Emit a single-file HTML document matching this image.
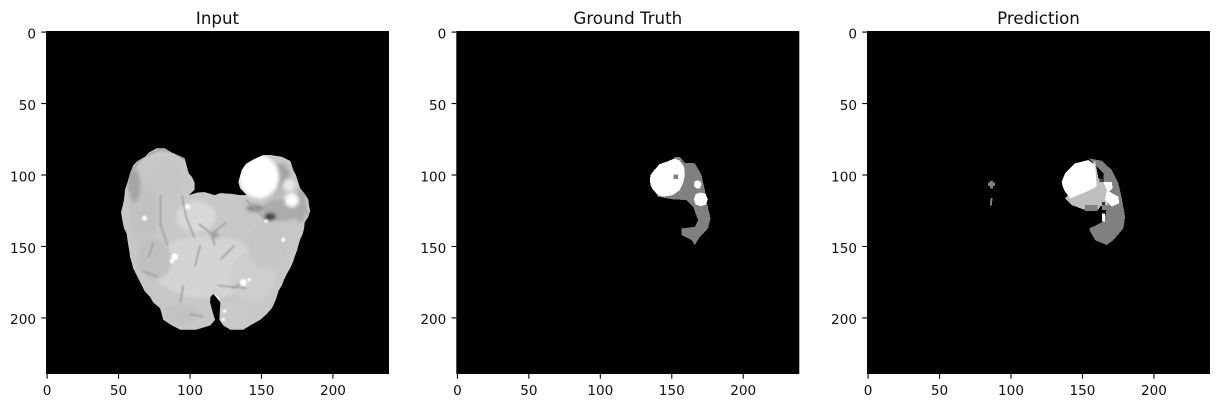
<!DOCTYPE html>
<html>
<head>
<meta charset="utf-8">
<style>
html,body{margin:0;padding:0;background:#fff;width:1222px;height:407px;overflow:hidden}
svg{display:block}
text{font-family:"DejaVu Sans","Liberation Sans",sans-serif;fill:#111}
</style>
</head>
<body>
<svg id="figure" width="1222" height="407" viewBox="0 0 1222 407" xmlns="http://www.w3.org/2000/svg">
<defs>
<filter id="soft" x="-30%" y="-30%" width="160%" height="160%"><feGaussianBlur stdDeviation="1.8"/></filter>
<filter id="softer" x="-30%" y="-30%" width="160%" height="160%"><feGaussianBlur stdDeviation="0.8"/></filter>
</defs>
</svg>
<script>
const xTickValues = [0, 50, 100, 150, 200];
const yTickValues = [0, 50, 100, 150, 200];
const panelTitles = ['Input', 'Ground Truth', 'Prediction'];
const imageSize = 240;

/* Image regions in image (row / column) coordinates, with gray level */
const brainOutline = [[77.5,82],[83,82],[88,85],[97,89],[99.9,99.6],[102,102],[104,106],[104,111],[100,114.8],[106,113],[111,112.7],[118,114.8],[122,113.4],[130,114],[135.8,114.8],[140.4,114.8],[135.8,110],[134.6,105.7],[137,97.3],[140,93],[145,90],[152,86.8],[157,86.8],[165,88],[171,91],[173,97.3],[175,101],[177.8,110],[181,114],[183.6,118],[184,122],[184.8,126],[183.6,130],[181,134],[180.6,138],[179.6,142],[177.8,146],[176.6,150],[175.5,154],[174,158],[172.7,162],[170.8,166],[168.5,170],[166.6,174],[165,178],[162.6,182],[161.5,186],[160,190],[158,194],[154.5,198],[150,202],[143,206],[138,209],[129,209],[124,206],[121.3,202],[122,190],[119,186],[117,184],[115,186],[114.8,190],[117,198],[118.3,202],[115,206],[105,209],[94,209],[88,206],[82,202],[81,198],[79.8,194],[75,190],[72.8,186],[69,182],[67,178],[65,174],[63,170],[61,166],[60,162],[58.8,158],[58.3,154],[57.6,150],[57,146],[56.5,142],[54.6,138],[53.7,134],[53,130],[52.5,126.7],[53.7,122],[54.6,118],[55.3,111],[57,106],[58.8,99.6],[61,94],[64,91],[69.3,88],[72,85]];
const brainBaseGray = 200;
/* [column, row, radius-x, radius-y, gray] */
const brainPatches = [[105,130,14,11,216],[112,165,38,22,212],[145,172,16,18,206],[95,198,12,7,194],[132,198,10,8,202],[68,128,10,22,194],[84,104,12,12,198],[62,108,4,12,165],[163.7,100.8,7,8,165],[165,125,14,8,172],[178,122,4,12,170],[160,112,7,4,185],[76,160,12,14,192],[155,150,14,16,198],[149,102,14,15,255],[172,118.3,4.7,4.7,255],[170,107.8,4.2,4.2,232],[156.8,129.9,4.2,2.8,65],[146,124,6,2.5,140],[118,143,3,2,150]];
/* dark folds: [col,row, col,row, ...] */
const brainFolds = [[58,112,60,98,68,88,80,83,90,85,97,90],[80,115,80,135,85,150],[95,115,98,130,104,145],[96,178,94,190],[75,148,72,158],[68,168,78,172],[140,118,146,124,152,130],[107,135,116,142],[126,134,116,142,118,150],[132,150,122,160],[108,150,104,165],[140,175,130,180],[120,178,140,180],[100,198,110,200],[180,122,184,130]];
const brainFoldGray = 160;
/* bright specks: [column, row, radius] */
const brainSpecks = [[90,158,2.4],[88,161,1.6],[138,176,2.4],[142,174,1.2],[118,188,3],[69,131,1.8],[99,123,1.8],[125,196,1.2],[166,146,1.5],[124,202,1.2],[154,133,1.2]];

const truthEdema = [[152.9,88],[156.4,88],[159.9,92.2],[166.9,92.6],[171.6,100.8],[173.9,111.3],[175.5,120.6],[177.9,131.1],[176.2,138.1],[170.4,144],[166.9,149.8],[164.6,146.3],[157.6,142.8],[157.6,138.1],[166.9,137],[169.2,132.3],[165.7,123],[161,118.3],[151.7,117.8],[141.2,116],[138.9,112.5],[150,100]];
const truthCore = [[135.4,104.3],[135.9,100.8],[138.9,96.8],[142.4,93.1],[147.1,91.5],[152.9,89.1],[156.4,90.8],[159.4,95],[159.9,100.8],[158.7,106.6],[156.4,111.3],[151.7,114.8],[144.7,116],[141.2,114.8],[137.7,111.3],[135.9,107.8]];
const truthHole = [[152,100.4],[155,100.4],[155,103.4],[152,103.4]];
const truthLargeSpot = [[171,113],[174.5,114],[176,118],[174.5,121.5],[171,122.5],[167.5,121.5],[166.3,118],[167.5,114]];
const truthSmallSpot = [[168.8,104.5],[171,105.5],[171.6,107.5],[170.4,110],[168.5,110.2],[166.6,109],[166.2,107],[167,105]];

const predEdema = [[154.9,89.1],[164.3,90.8],[171.3,97.3],[175.9,106.6],[178.3,117.1],[180.6,130],[179.4,138.1],[172.4,146.3],[167.8,149.8],[159.6,146.3],[155.6,139.3],[156,137.9],[165.4,133.4],[167.2,127.6],[167.8,122],[165.4,118.3],[165.4,99.6]];
const predEnhancing = [[159.6,90.3],[161.9,103.1],[166.6,105.5],[167.7,113.6],[169,121.8],[163.5,122.5],[161.9,124.8],[151.4,124.8],[143.2,121.8],[138.6,117],[150,105]];
const predCorePatch = [[152.6,121.8],[161.4,121.8],[161.4,125.8],[152.6,125.8]];
const predCore = [[136.2,105.5],[138.6,99.6],[145.6,92.6],[154.9,90.3],[159.6,93.8],[160.7,109],[153.7,112.4],[142.1,117.1],[138.6,112.4],[137,109]];
const predRightLobe = [[165.4,105.5],[171.2,105.5],[171.9,110],[169.6,112.4],[175.9,116],[176.4,120.6],[171.2,122.9],[166.6,118.3],[167.7,111.3]];
const predLowerSpot = [[164.3,127.6],[166.6,127.6],[166.6,133.4],[164.3,133.4]];
const predDarkSpotA = [[162.6,103.1],[165.9,103.1],[165.9,105.5],[162.6,105.5]];
const predDarkSpotB = [[164.6,119.5],[166.4,119.5],[166.4,121.8],[164.6,121.8]];
const predMidSpot = [[164.3,121.8],[167.8,121.8],[167.8,125.3],[164.3,125.3]];
const predSpeckA = [[86,105],[88.2,105],[88.2,106],[89.6,106],[89.6,108.6],[88.2,108.6],[88.2,110.3],[86,110.3],[86,108.6],[84.6,108.6],[84.6,106],[86,106]];
const predSpeckB = [[86.4,117],[87.8,117],[87.4,122],[86,122]];

const truthRegions = [[truthEdema,128,'truth-edema'],[truthCore,255,'truth-core'],[truthHole,128,'truth-hole'],[truthLargeSpot,255,'truth-large-spot'],[truthSmallSpot,255,'truth-small-spot']];
const predRegions = [[predEdema,128,'prediction-edema'],[predEnhancing,191,'prediction-enhancing'],[predCorePatch,128,'prediction-core-patch'],[predCore,255,'prediction-core'],[predRightLobe,255,'prediction-right-lobe'],[predLowerSpot,255,'prediction-lower-spot'],[predDarkSpotA,64,'prediction-dark-spot-a'],[predMidSpot,128,'prediction-mid-spot'],[predDarkSpotB,50,'prediction-dark-spot-b'],[predSpeckA,128,'prediction-speck-a'],[predSpeckB,128,'prediction-speck-b']];

const NS = 'http://www.w3.org/2000/svg';
const svg = document.getElementById('figure');
const panelLefts = [46, 456.3, 867];
const panelTop = 31;
const panelSide = 343;
const pixelScale = panelSide / imageSize;
const tickOffset = 1.1;

function make(tag, attrs, parent) {
  const n = document.createElementNS(NS, tag);
  for (const k in attrs) n.setAttribute(k, attrs[k]);
  parent.appendChild(n);
  return n;
}
function gray(v) { return 'rgb(' + v + ',' + v + ',' + v + ')'; }
function xScale(i, v) { return panelLefts[i] + v * pixelScale; }
function yScale(v) { return panelTop + v * pixelScale; }
function rScale(v) { return v * pixelScale; }
function pointsFor(i, pts) { return pts.map(p => xScale(i, p[0]).toFixed(2) + ',' + yScale(p[1]).toFixed(2)).join(' '); }

function drawPanel(i) {
  const g = make('g', {}, svg);
  
  
  const bg = make('rect', {x: panelLefts[i], y: panelTop, width: panelSide, height: panelSide, fill: '#000'}, g);
  
  
  const title = make('text', {x: panelLefts[i] + panelSide / 2, y: 24, 'text-anchor': 'middle', 'font-size': '16.67'}, g);
  title.textContent = panelTitles[i];
  
  
  xTickValues.forEach(v => {
    const x = xScale(i, v) + tickOffset;
    const tick = make('line', {x1: x, x2: x, y1: panelTop + panelSide, y2: panelTop + panelSide + 4.7, stroke: '#000', 'stroke-width': 1.1}, g);
    
    
    const label = make('text', {x: x, y: 395, 'text-anchor': 'middle', 'font-size': '13.6'}, g);
    label.textContent = v;
    
    
  });
  yTickValues.forEach(v => {
    const y = yScale(v) + tickOffset;
    const tick = make('line', {x1: panelLefts[i] - 4.7, x2: panelLefts[i], y1: y, y2: y, stroke: '#000', 'stroke-width': 1.1}, g);
    
    
    const label = make('text', {x: panelLefts[i] - 10, y: y + 6.3, 'text-anchor': 'end', 'font-size': '13.6'}, g);
    label.textContent = v;
    
    
  });
  return g;
}
function drawRegions(i, g, regions) {
  regions.forEach(r => {
    const poly = make('polygon', {points: pointsFor(i, r[0]), fill: gray(r[1]), 'shape-rendering': 'crispEdges'}, g);
    
    
  });
}

const inputPanel = drawPanel(0);
const clip = make('clipPath', {id: 'brain-clip'}, svg);
make('polygon', {points: pointsFor(0, brainOutline), 'shape-rendering': 'crispEdges'}, clip);
const brain = make('g', {'clip-path': 'url(#brain-clip)'}, inputPanel);


make('rect', {x: panelLefts[0], y: panelTop, width: panelSide, height: panelSide, fill: gray(brainBaseGray)}, brain);
const soft = make('g', {filter: 'url(#soft)'}, brain);
brainPatches.forEach(p => {
  const patch = make('ellipse', {cx: xScale(0, p[0]), cy: yScale(p[1]), rx: rScale(p[2]), ry: rScale(p[3]), fill: gray(p[4])}, soft);
  
  
});
const sharp = make('g', {filter: 'url(#softer)'}, brain);
brainFolds.forEach(f => {
  const pts = [];
  for (let k = 0; k < f.length; k += 2) pts.push([f[k], f[k + 1]]);
  const fold = make('polyline', {points: pointsFor(0, pts), fill: 'none', stroke: gray(brainFoldGray), 'stroke-width': 1.6}, sharp);
  
  
});
brainSpecks.forEach(s => {
  const speck = make('circle', {cx: xScale(0, s[0]), cy: yScale(s[1]), r: rScale(s[2]), fill: '#fff'}, sharp);
  
  
});

drawRegions(1, drawPanel(1), truthRegions);
drawRegions(2, drawPanel(2), predRegions);
</script>
</body>
</html>
